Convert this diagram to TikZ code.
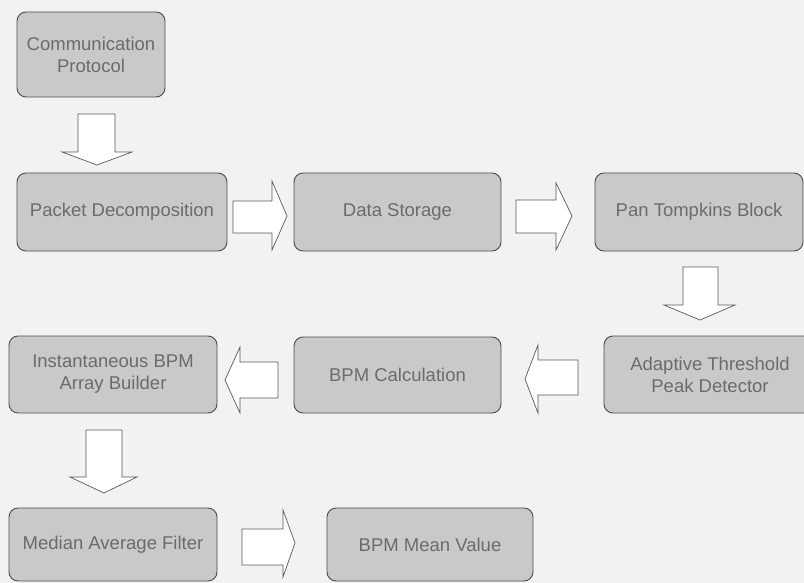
\documentclass[tikz,border=0pt]{standalone}
\usepackage{fontspec}
\setmainfont{Liberation Sans}
\begin{document}
\begin{tikzpicture}[x=1pt,y=-1pt,
  blk/.style={draw=black!70,line width=0.9pt,fill=black!21,rounded corners=9pt,
    inner sep=0pt,outer sep=0pt,text=black!58,align=center,
    font=\fontsize{18.5}{22}\selectfont},
  barrow/.style={draw=black!65,line width=0.7pt,fill=white,line join=miter}]
\useasboundingbox (0,0) rectangle (804,583);
\fill[black!5] (0,0) rectangle (804,583);
\begin{scope}
\clip (0,0) rectangle (804,583);
\node[blk,minimum width=148pt,minimum height=85pt] (cp) at (91,54.5) {Communication\\Protocol};
\node[blk,minimum width=210pt,minimum height=78pt] (pd) at (122,212) {Packet Decomposition};
\node[blk,minimum width=207pt,minimum height=78pt] (ds) at (397.5,212) {Data Storage};
\node[blk,minimum width=208pt,minimum height=78pt] (pt) at (699,212) {Pan Tompkins Block};
\node[blk,minimum width=212pt,minimum height=77pt] (at) at (710,374.5) {Adaptive Threshold\\Peak Detector};
\node[blk,minimum width=207pt,minimum height=76pt] (bc) at (397.5,375) {BPM Calculation};
\node[blk,minimum width=208pt,minimum height=77pt] (ib) at (113,374.5) {Instantaneous BPM\\Array Builder};
\node[blk,minimum width=208pt,minimum height=73pt] (mf) at (113,544.5) {Median Average Filter};
\node[blk,minimum width=206pt,minimum height=73pt] (bm) at (430,544.5) {BPM Mean Value};
\end{scope}
% block arrows
\draw[barrow] (78,114) -- (115,114) -- (115,152) -- (132,152) -- (97,165) -- (62,152) -- (78,152) -- cycle;
\draw[barrow] (233,201) -- (272,201) -- (272,181) -- (287,216) -- (272,250) -- (272,233) -- (233,233) -- cycle;
\draw[barrow] (516,200) -- (556,200) -- (556,183) -- (572,216) -- (556,250) -- (556,233) -- (516,233) -- cycle;
\draw[barrow] (683,267) -- (718,267) -- (718,305) -- (735,305) -- (700,320) -- (664,305) -- (683,305) -- cycle;
\draw[barrow] (578,360) -- (538,360) -- (538,345) -- (525,379) -- (538,413) -- (538,395) -- (578,395) -- cycle;
\draw[barrow] (278,362) -- (240,362) -- (240,347) -- (225,380) -- (240,413) -- (240,398) -- (278,398) -- cycle;
\draw[barrow] (86,430) -- (122,430) -- (122,477) -- (137,477) -- (104,493) -- (70,477) -- (86,477) -- cycle;
\draw[barrow] (242,529) -- (283,529) -- (283,510) -- (295,543) -- (283,577) -- (283,565) -- (242,565) -- cycle;
\end{tikzpicture}
\end{document}
